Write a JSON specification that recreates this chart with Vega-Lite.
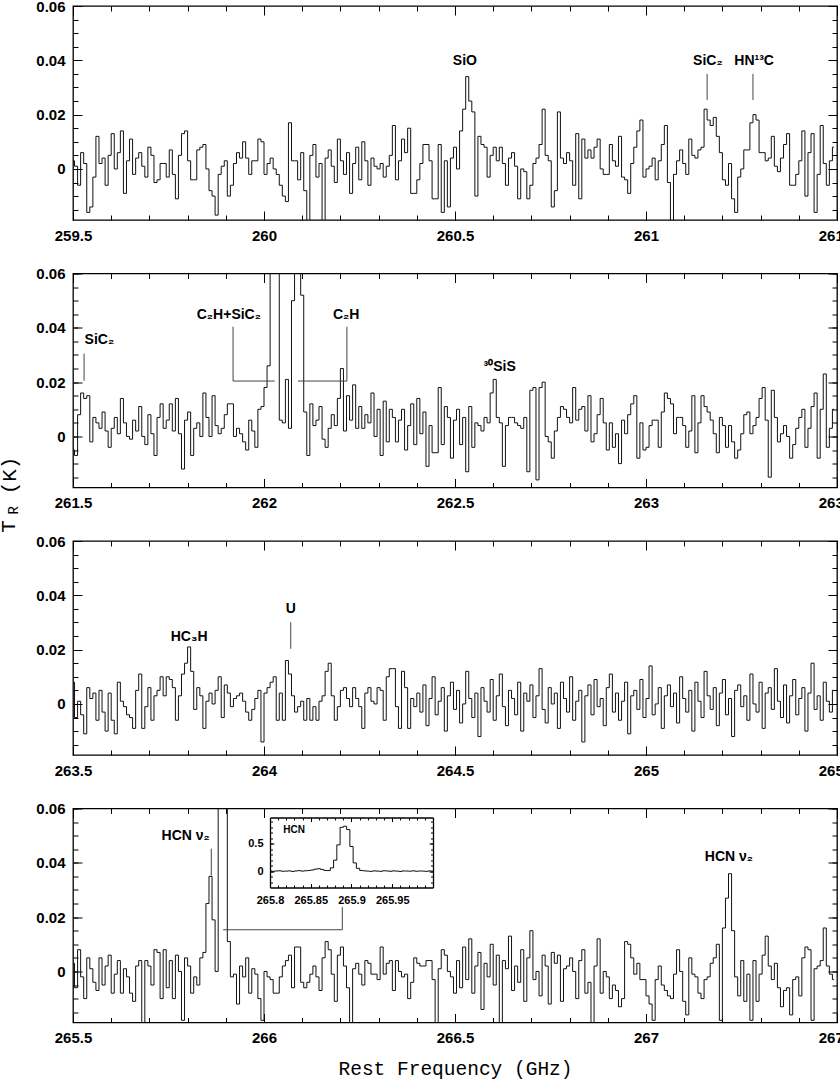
{
"$schema":"https://vega.github.io/schema/vega-lite/v6.json",
"background":"white",
"padding":{"left":-3,"top":-2,"right":0,"bottom":0},
"bounds":"flush",
"spacing":53.5,
"config":{
 "view":{"stroke":"black","strokeWidth":1.3},
 "axis":{"grid":false,"domain":false,"tickColor":"black","tickWidth":1,"labelFont":"Liberation Sans","labelFontWeight":"bold","labelFontSize":15,"labelColor":"black","titleFont":"Liberation Mono","titleFontWeight":"normal","titleFontSize":19.5,"titleColor":"black","labelOverlap":false,"labelFlush":false,"zindex":1}
},
"datasets":{
"p1":[
{"f":259.5,"t":0.003},{"f":259.508,"t":0.001},{"f":259.516,"t":-0.006},{"f":259.524,"t":0.006},{"f":259.532,"t":0.002},{"f":259.54,"t":-0.016},{"f":259.548,"t":-0.014},{"f":259.556,"t":-0.003},{"f":259.564,"t":0.012},{"f":259.572,"t":0.002},
{"f":259.58,"t":0.004},{"f":259.588,"t":-0.006},{"f":259.596,"t":0.005},{"f":259.604,"t":0.013},{"f":259.612,"t":0},{"f":259.62,"t":0.006},{"f":259.628,"t":0.014},{"f":259.636,"t":-0.009},{"f":259.644,"t":0.003},{"f":259.652,"t":0.011},
{"f":259.66,"t":-0.002},{"f":259.668,"t":0.004},{"f":259.676,"t":0.006},{"f":259.684,"t":0.001},{"f":259.692,"t":-0.003},{"f":259.7,"t":0.008},{"f":259.708,"t":0.005},{"f":259.716,"t":-0.005},{"f":259.724,"t":-0.004},{"f":259.732,"t":0.002},
{"f":259.74,"t":0.002},{"f":259.748,"t":-0.003},{"f":259.756,"t":0.007},{"f":259.764,"t":-0.002},{"f":259.772,"t":-0.011},{"f":259.78,"t":0.005},{"f":259.788,"t":0.013},{"f":259.796,"t":0.014},{"f":259.804,"t":0.003},{"f":259.812,"t":-0.004},
{"f":259.82,"t":-0.004},{"f":259.828,"t":0.007},{"f":259.836,"t":0.008},{"f":259.844,"t":0.009},{"f":259.852,"t":0},{"f":259.86,"t":-0.008},{"f":259.868,"t":-0.01},{"f":259.876,"t":-0.017},{"f":259.884,"t":-0.002},{"f":259.892,"t":0.001},
{"f":259.9,"t":0.003},{"f":259.908,"t":-0.01},{"f":259.916,"t":-0.006},{"f":259.924,"t":0.002},{"f":259.932,"t":0.006},{"f":259.94,"t":0.004},{"f":259.948,"t":0.01},{"f":259.956,"t":0.004},{"f":259.964,"t":-0.002},{"f":259.972,"t":0.003},
{"f":259.98,"t":0.003},{"f":259.988,"t":0.011},{"f":259.996,"t":0.01},{"f":260.004,"t":-0.002},{"f":260.012,"t":0.002},{"f":260.02,"t":0.004},{"f":260.028,"t":0},{"f":260.036,"t":-0.002},{"f":260.044,"t":-0.006},{"f":260.052,"t":-0.01},
{"f":260.06,"t":-0.012},{"f":260.068,"t":0.017},{"f":260.076,"t":0.003},{"f":260.084,"t":0.003},{"f":260.092,"t":-0.004},{"f":260.1,"t":0.006},{"f":260.108,"t":-0.008},{"f":260.116,"t":-0.019},{"f":260.124,"t":0.005},{"f":260.132,"t":0.009},
{"f":260.14,"t":-0.003},{"f":260.148,"t":0.002},{"f":260.156,"t":-0.02},{"f":260.164,"t":0.004},{"f":260.172,"t":0.007},{"f":260.18,"t":0.001},{"f":260.188,"t":-0.005},{"f":260.196,"t":0.011},{"f":260.204,"t":0.003},{"f":260.212,"t":-0.002},
{"f":260.22,"t":0.006},{"f":260.228,"t":-0.009},{"f":260.236,"t":0.002},{"f":260.244,"t":0.008},{"f":260.252,"t":-0.004},{"f":260.26,"t":0.01},{"f":260.268,"t":0.003},{"f":260.276,"t":-0.006},{"f":260.284,"t":0.004},{"f":260.292,"t":0.001},
{"f":260.3,"t":0},{"f":260.308,"t":0.002},{"f":260.316,"t":-0.003},{"f":260.324,"t":0.001},{"f":260.332,"t":0.005},{"f":260.34,"t":0.016},{"f":260.348,"t":-0.004},{"f":260.356,"t":0.003},{"f":260.364,"t":0.011},{"f":260.372,"t":0.006},
{"f":260.38,"t":0.015},{"f":260.388,"t":-0.009},{"f":260.396,"t":-0.009},{"f":260.404,"t":-0.004},{"f":260.412,"t":0.002},{"f":260.42,"t":0.009},{"f":260.428,"t":0.009},{"f":260.436,"t":0.003},{"f":260.444,"t":-0.011},{"f":260.452,"t":-0.011},
{"f":260.46,"t":0.009},{"f":260.468,"t":-0.016},{"f":260.476,"t":0.003},{"f":260.484,"t":-0.014},{"f":260.492,"t":0.004},{"f":260.5,"t":0.008},{"f":260.508,"t":0},{"f":260.516,"t":0.014},{"f":260.524,"t":0.022},{"f":260.532,"t":0.034},
{"f":260.54,"t":0.025},{"f":260.548,"t":0.021},{"f":260.556,"t":-0.01},{"f":260.564,"t":0.012},{"f":260.572,"t":0.009},{"f":260.58,"t":0.008},{"f":260.588,"t":-0.003},{"f":260.596,"t":0.005},{"f":260.604,"t":0.008},{"f":260.612,"t":0.003},
{"f":260.62,"t":0.008},{"f":260.628,"t":0.002},{"f":260.636,"t":-0.006},{"f":260.644,"t":0.004},{"f":260.652,"t":0.006},{"f":260.66,"t":0.001},{"f":260.668,"t":-0.011},{"f":260.676,"t":0},{"f":260.684,"t":-0.001},{"f":260.692,"t":-0.011},
{"f":260.7,"t":-0.006},{"f":260.708,"t":0.002},{"f":260.716,"t":0.004},{"f":260.724,"t":0.009},{"f":260.732,"t":0.022},{"f":260.74,"t":0.005},{"f":260.748,"t":0.003},{"f":260.756,"t":-0.014},{"f":260.764,"t":-0.008},{"f":260.772,"t":0.021},
{"f":260.78,"t":0.004},{"f":260.788,"t":0.002},{"f":260.796,"t":0.006},{"f":260.804,"t":0.003},{"f":260.812,"t":-0.006},{"f":260.82,"t":0.013},{"f":260.828,"t":-0.011},{"f":260.836,"t":0.011},{"f":260.844,"t":0.004},{"f":260.852,"t":0.007},
{"f":260.86,"t":0.004},{"f":260.868,"t":0.008},{"f":260.876,"t":0.011},{"f":260.884,"t":0},{"f":260.892,"t":-0.002},{"f":260.9,"t":-0.002},{"f":260.908,"t":0.009},{"f":260.916,"t":0.003},{"f":260.924,"t":0.001},{"f":260.932,"t":0.012},
{"f":260.94,"t":-0.003},{"f":260.948,"t":-0.004},{"f":260.956,"t":-0.009},{"f":260.964,"t":0.002},{"f":260.972,"t":0.008},{"f":260.98,"t":0.014},{"f":260.988,"t":0.018},{"f":260.996,"t":-0.003},{"f":261.004,"t":0},{"f":261.012,"t":0.001},
{"f":261.02,"t":0.004},{"f":261.028,"t":-0.004},{"f":261.036,"t":0.003},{"f":261.044,"t":0.009},{"f":261.052,"t":0.016},{"f":261.06,"t":-0.005},{"f":261.068,"t":-0.022},{"f":261.076,"t":-0.002},{"f":261.084,"t":0.003},{"f":261.092,"t":0.007},
{"f":261.1,"t":0.002},{"f":261.108,"t":-0.002},{"f":261.116,"t":0.011},{"f":261.124,"t":0.005},{"f":261.132,"t":0.004},{"f":261.14,"t":0.007},{"f":261.148,"t":0.008},{"f":261.156,"t":0.022},{"f":261.164,"t":0.018},{"f":261.172,"t":0.016},
{"f":261.18,"t":0.019},{"f":261.188,"t":0.012},{"f":261.196,"t":0.006},{"f":261.204,"t":-0.004},{"f":261.212,"t":-0.006},{"f":261.22,"t":0.002},{"f":261.228,"t":-0.011},{"f":261.236,"t":-0.016},{"f":261.244,"t":-0.003},{"f":261.252,"t":0},
{"f":261.26,"t":0.007},{"f":261.268,"t":0.007},{"f":261.276,"t":0.017},{"f":261.284,"t":0.02},{"f":261.292,"t":0.018},{"f":261.3,"t":0.006},{"f":261.308,"t":0.006},{"f":261.316,"t":0.003},{"f":261.324,"t":0.004},{"f":261.332,"t":0.012},
{"f":261.34,"t":0.001},{"f":261.348,"t":-0.001},{"f":261.356,"t":0.004},{"f":261.364,"t":0.009},{"f":261.372,"t":0.013},{"f":261.38,"t":-0.006},{"f":261.388,"t":-0.006},{"f":261.396,"t":-0.002},{"f":261.404,"t":0.003},{"f":261.412,"t":0.014},
{"f":261.42,"t":-0.01},{"f":261.428,"t":0.006},{"f":261.436,"t":0.013},{"f":261.444,"t":-0.016},{"f":261.452,"t":-0.002},{"f":261.46,"t":0.016},{"f":261.468,"t":0.002},{"f":261.476,"t":-0.006},{"f":261.484,"t":0.003},{"f":261.492,"t":0.008}
],
"p2":[
{"f":261.5,"t":-0.005},{"f":261.508,"t":-0.007},{"f":261.516,"t":0.008},{"f":261.524,"t":0.016},{"f":261.532,"t":0.014},{"f":261.54,"t":0.015},{"f":261.548,"t":-0.002},{"f":261.556,"t":0.007},{"f":261.564,"t":0.005},{"f":261.572,"t":0.003},
{"f":261.58,"t":0.009},{"f":261.588,"t":0.002},{"f":261.596,"t":-0.004},{"f":261.604,"t":0.003},{"f":261.612,"t":0.007},{"f":261.62,"t":0.001},{"f":261.628,"t":0.014},{"f":261.636,"t":0.005},{"f":261.644,"t":0},{"f":261.652,"t":-0.001},
{"f":261.66,"t":0.006},{"f":261.668,"t":0.002},{"f":261.676,"t":0.011},{"f":261.684,"t":0},{"f":261.692,"t":-0.003},{"f":261.7,"t":0.008},{"f":261.708,"t":0.001},{"f":261.716,"t":-0.007},{"f":261.724,"t":0.007},{"f":261.732,"t":0.012},
{"f":261.74,"t":0.003},{"f":261.748,"t":0.006},{"f":261.756,"t":0.012},{"f":261.764,"t":0.002},{"f":261.772,"t":0.014},{"f":261.78,"t":0.001},{"f":261.788,"t":-0.012},{"f":261.796,"t":0.006},{"f":261.804,"t":0.009},{"f":261.812,"t":-0.007},
{"f":261.82,"t":0.003},{"f":261.828,"t":0.005},{"f":261.836,"t":0},{"f":261.844,"t":0.016},{"f":261.852,"t":0.007},{"f":261.86,"t":0},{"f":261.868,"t":0.015},{"f":261.876,"t":0.004},{"f":261.884,"t":0.001},{"f":261.892,"t":0.003},
{"f":261.9,"t":0.008},{"f":261.908,"t":0.012},{"f":261.916,"t":0.012},{"f":261.924,"t":0},{"f":261.932,"t":0.003},{"f":261.94,"t":0.001},{"f":261.948,"t":-0.002},{"f":261.956,"t":-0.005},{"f":261.964,"t":0.006},{"f":261.972,"t":0.002},
{"f":261.98,"t":-0.004},{"f":261.988,"t":0.01},{"f":261.996,"t":0.011},{"f":262.004,"t":0.018},{"f":262.012,"t":0.026},{"f":262.02,"t":0.35},{"f":262.028,"t":0.35},{"f":262.036,"t":0.35},{"f":262.044,"t":0.006},{"f":262.052,"t":0.005},
{"f":262.06,"t":0.021},{"f":262.068,"t":0.003},{"f":262.076,"t":0.05},{"f":262.084,"t":0.35},{"f":262.092,"t":0.35},{"f":262.1,"t":0.052},{"f":262.108,"t":0.009},{"f":262.116,"t":-0.007},{"f":262.124,"t":0.012},{"f":262.132,"t":0.004},
{"f":262.14,"t":0.006},{"f":262.148,"t":0.011},{"f":262.156,"t":-0.001},{"f":262.164,"t":-0.004},{"f":262.172,"t":0.003},{"f":262.18,"t":0.008},{"f":262.188,"t":0.004},{"f":262.196,"t":0.014},{"f":262.204,"t":0.025},{"f":262.212,"t":0.002},
{"f":262.22,"t":0.015},{"f":262.228,"t":0.006},{"f":262.236,"t":0.019},{"f":262.244,"t":0.003},{"f":262.252,"t":0.011},{"f":262.26,"t":0.003},{"f":262.268,"t":0.008},{"f":262.276,"t":0.005},{"f":262.284,"t":0.016},{"f":262.292,"t":0},
{"f":262.3,"t":0.01},{"f":262.308,"t":-0.007},{"f":262.316,"t":0.013},{"f":262.324,"t":-0.002},{"f":262.332,"t":0.01},{"f":262.34,"t":0.007},{"f":262.348,"t":-0.002},{"f":262.356,"t":0.006},{"f":262.364,"t":0.01},{"f":262.372,"t":-0.005},
{"f":262.38,"t":0.004},{"f":262.388,"t":0.012},{"f":262.396,"t":-0.003},{"f":262.404,"t":0.014},{"f":262.412,"t":0.001},{"f":262.42,"t":0.009},{"f":262.428,"t":-0.011},{"f":262.436,"t":0.004},{"f":262.444,"t":-0.006},{"f":262.452,"t":-0.006},
{"f":262.46,"t":0.018},{"f":262.468,"t":-0.003},{"f":262.476,"t":0.011},{"f":262.484,"t":0.007},{"f":262.492,"t":-0.008},{"f":262.5,"t":0.006},{"f":262.508,"t":0.01},{"f":262.516,"t":-0.003},{"f":262.524,"t":0.007},{"f":262.532,"t":-0.013},
{"f":262.54,"t":0.011},{"f":262.548,"t":-0.004},{"f":262.556,"t":0.005},{"f":262.564,"t":0.004},{"f":262.572,"t":0.002},{"f":262.58,"t":0.007},{"f":262.588,"t":0.005},{"f":262.596,"t":0.016},{"f":262.604,"t":0.021},{"f":262.612,"t":0.007},
{"f":262.62,"t":0.005},{"f":262.628,"t":-0.011},{"f":262.636,"t":0.004},{"f":262.644,"t":0.007},{"f":262.652,"t":0.007},{"f":262.66,"t":0.005},{"f":262.668,"t":0.004},{"f":262.676,"t":0.003},{"f":262.684,"t":0.007},{"f":262.692,"t":-0.013},
{"f":262.7,"t":0.017},{"f":262.708,"t":0.018},{"f":262.716,"t":-0.016},{"f":262.724,"t":0.018},{"f":262.732,"t":0.02},{"f":262.74,"t":0},{"f":262.748,"t":-0.002},{"f":262.756,"t":-0.008},{"f":262.764,"t":0.002},{"f":262.772,"t":0.007},
{"f":262.78,"t":0.011},{"f":262.788,"t":0.01},{"f":262.796,"t":0.007},{"f":262.804,"t":0.005},{"f":262.812,"t":0.018},{"f":262.82,"t":0.006},{"f":262.828,"t":0.01},{"f":262.836,"t":0.011},{"f":262.844,"t":0.002},{"f":262.852,"t":0.015},
{"f":262.86,"t":-0.002},{"f":262.868,"t":0.001},{"f":262.876,"t":0.008},{"f":262.884,"t":0.014},{"f":262.892,"t":0.005},{"f":262.9,"t":-0.005},{"f":262.908,"t":0.005},{"f":262.916,"t":-0.004},{"f":262.924,"t":0.001},{"f":262.932,"t":-0.01},
{"f":262.94,"t":0.006},{"f":262.948,"t":0.001},{"f":262.956,"t":0.008},{"f":262.964,"t":0.012},{"f":262.972,"t":0.015},{"f":262.98,"t":-0.008},{"f":262.988,"t":0.005},{"f":262.996,"t":-0.005},{"f":263.004,"t":-0.004},{"f":263.012,"t":0.004},
{"f":263.02,"t":0.006},{"f":263.028,"t":0.006},{"f":263.036,"t":-0.004},{"f":263.044,"t":0.009},{"f":263.052,"t":0.016},{"f":263.06,"t":0.014},{"f":263.068,"t":0.012},{"f":263.076,"t":0.001},{"f":263.084,"t":0.007},{"f":263.092,"t":0.007},
{"f":263.1,"t":0.004},{"f":263.108,"t":-0.004},{"f":263.116,"t":0.002},{"f":263.124,"t":0.015},{"f":263.132,"t":-0.006},{"f":263.14,"t":0.005},{"f":263.148,"t":0.015},{"f":263.156,"t":0.011},{"f":263.164,"t":0.009},{"f":263.172,"t":0.006},
{"f":263.18,"t":0.001},{"f":263.188,"t":-0.006},{"f":263.196,"t":0.007},{"f":263.204,"t":0.004},{"f":263.212,"t":-0.004},{"f":263.22,"t":0.004},{"f":263.228,"t":-0.002},{"f":263.236,"t":-0.008},{"f":263.244,"t":-0.005},{"f":263.252,"t":0.001},
{"f":263.26,"t":0.008},{"f":263.268,"t":0.009},{"f":263.276,"t":0.001},{"f":263.284,"t":0.004},{"f":263.292,"t":0.007},{"f":263.3,"t":0.014},{"f":263.308,"t":0.018},{"f":263.316,"t":0.006},{"f":263.324,"t":-0.015},{"f":263.332,"t":0.017},
{"f":263.34,"t":0.007},{"f":263.348,"t":-0.002},{"f":263.356,"t":0.001},{"f":263.364,"t":0.004},{"f":263.372,"t":0},{"f":263.38,"t":-0.008},{"f":263.388,"t":-0.003},{"f":263.396,"t":0.003},{"f":263.404,"t":0.007},{"f":263.412,"t":0.01},
{"f":263.42,"t":-0.004},{"f":263.428,"t":0.003},{"f":263.436,"t":0.011},{"f":263.444,"t":0.016},{"f":263.452,"t":-0.008},{"f":263.46,"t":0.01},{"f":263.468,"t":0.023},{"f":263.476,"t":-0.004},{"f":263.484,"t":0.003},{"f":263.492,"t":0.01}
],
"p3":[
{"f":263.5,"t":0.008},{"f":263.508,"t":-0.005},{"f":263.516,"t":0.001},{"f":263.524,"t":-0.004},{"f":263.532,"t":-0.011},{"f":263.54,"t":0.006},{"f":263.548,"t":0.002},{"f":263.556,"t":0.004},{"f":263.564,"t":-0.006},{"f":263.572,"t":0.005},
{"f":263.58,"t":-0.003},{"f":263.588,"t":-0.01},{"f":263.596,"t":0.004},{"f":263.604,"t":-0.006},{"f":263.612,"t":-0.011},{"f":263.62,"t":0.008},{"f":263.628,"t":0.001},{"f":263.636,"t":-0.001},{"f":263.644,"t":-0.004},{"f":263.652,"t":-0.005},
{"f":263.66,"t":-0.009},{"f":263.668,"t":0.005},{"f":263.676,"t":0.011},{"f":263.684,"t":-0.009},{"f":263.692,"t":-0.001},{"f":263.7,"t":0.006},{"f":263.708,"t":-0.006},{"f":263.716,"t":0.003},{"f":263.724,"t":0.005},{"f":263.732,"t":0.01},
{"f":263.74,"t":0.003},{"f":263.748,"t":0.01},{"f":263.756,"t":0.009},{"f":263.764,"t":0.006},{"f":263.772,"t":-0.006},{"f":263.78,"t":0.003},{"f":263.788,"t":0.011},{"f":263.796,"t":0.015},{"f":263.804,"t":0.021},{"f":263.812,"t":0.012},
{"f":263.82,"t":-0.002},{"f":263.828,"t":0.006},{"f":263.836,"t":0.003},{"f":263.844,"t":-0.009},{"f":263.852,"t":0.001},{"f":263.86,"t":0.004},{"f":263.868,"t":0},{"f":263.876,"t":0.005},{"f":263.884,"t":0.01},{"f":263.892,"t":-0.005},
{"f":263.9,"t":0.007},{"f":263.908,"t":0.004},{"f":263.916,"t":-0.001},{"f":263.924,"t":0.002},{"f":263.932,"t":0.003},{"f":263.94,"t":0.004},{"f":263.948,"t":0.001},{"f":263.956,"t":-0.003},{"f":263.964,"t":-0.006},{"f":263.972,"t":-0.002},
{"f":263.98,"t":0.002},{"f":263.988,"t":0.005},{"f":263.996,"t":-0.014},{"f":264.004,"t":0.004},{"f":264.012,"t":0.006},{"f":264.02,"t":0.008},{"f":264.028,"t":0.01},{"f":264.036,"t":-0.006},{"f":264.044,"t":0.004},{"f":264.052,"t":-0.006},
{"f":264.06,"t":0.016},{"f":264.068,"t":0.011},{"f":264.076,"t":0.003},{"f":264.084,"t":-0.003},{"f":264.092,"t":-0.001},{"f":264.1,"t":0.001},{"f":264.108,"t":-0.006},{"f":264.116,"t":0.002},{"f":264.124,"t":-0.006},{"f":264.132,"t":-0.001},
{"f":264.14,"t":-0.006},{"f":264.148,"t":0.001},{"f":264.156,"t":0.003},{"f":264.164,"t":0.012},{"f":264.172,"t":0.015},{"f":264.18,"t":0.003},{"f":264.188,"t":-0.006},{"f":264.196,"t":-0.001},{"f":264.204,"t":0.005},{"f":264.212,"t":0.006},
{"f":264.22,"t":0.002},{"f":264.228,"t":-0.001},{"f":264.236,"t":0.006},{"f":264.244,"t":0.002},{"f":264.252,"t":-0.001},{"f":264.26,"t":-0.009},{"f":264.268,"t":0.004},{"f":264.276,"t":0.006},{"f":264.284,"t":0.001},{"f":264.292,"t":0},
{"f":264.3,"t":0.006},{"f":264.308,"t":0.005},{"f":264.316,"t":-0.006},{"f":264.324,"t":0.01},{"f":264.332,"t":0.013},{"f":264.34,"t":0.013},{"f":264.348,"t":-0.001},{"f":264.356,"t":-0.009},{"f":264.364,"t":0.012},{"f":264.372,"t":0.006},
{"f":264.38,"t":-0.009},{"f":264.388,"t":0.002},{"f":264.396,"t":-0.001},{"f":264.404,"t":0.004},{"f":264.412,"t":-0.003},{"f":264.42,"t":0.007},{"f":264.428,"t":-0.008},{"f":264.436,"t":0.002},{"f":264.444,"t":0.01},{"f":264.452,"t":-0.004},
{"f":264.46,"t":0.001},{"f":264.468,"t":0.006},{"f":264.476,"t":-0.01},{"f":264.484,"t":0.003},{"f":264.492,"t":0.008},{"f":264.5,"t":-0.002},{"f":264.508,"t":0.005},{"f":264.516,"t":-0.007},{"f":264.524,"t":0},{"f":264.532,"t":0.012},
{"f":264.54,"t":0.002},{"f":264.548,"t":-0.005},{"f":264.556,"t":0.004},{"f":264.564,"t":-0.012},{"f":264.572,"t":0.006},{"f":264.58,"t":0.001},{"f":264.588,"t":-0.003},{"f":264.596,"t":0.009},{"f":264.604,"t":-0.006},{"f":264.612,"t":0.003},
{"f":264.62,"t":0.011},{"f":264.628,"t":-0.001},{"f":264.636,"t":-0.008},{"f":264.644,"t":0.005},{"f":264.652,"t":0.002},{"f":264.66,"t":-0.004},{"f":264.668,"t":0.008},{"f":264.676,"t":-0.01},{"f":264.684,"t":0.004},{"f":264.692,"t":0.001},
{"f":264.7,"t":0.007},{"f":264.708,"t":-0.005},{"f":264.716,"t":0.003},{"f":264.724,"t":0.013},{"f":264.732,"t":-0.002},{"f":264.74,"t":-0.007},{"f":264.748,"t":0.006},{"f":264.756,"t":0},{"f":264.764,"t":0.004},{"f":264.772,"t":-0.009},
{"f":264.78,"t":0.008},{"f":264.788,"t":0.002},{"f":264.796,"t":-0.003},{"f":264.804,"t":0.01},{"f":264.812,"t":-0.006},{"f":264.82,"t":0.001},{"f":264.828,"t":0.005},{"f":264.836,"t":-0.014},{"f":264.844,"t":0.003},{"f":264.852,"t":0.007},
{"f":264.86,"t":-0.004},{"f":264.868,"t":0.009},{"f":264.876,"t":-0.001},{"f":264.884,"t":0.002},{"f":264.892,"t":-0.008},{"f":264.9,"t":0.006},{"f":264.908,"t":0.011},{"f":264.916,"t":-0.003},{"f":264.924,"t":0.004},{"f":264.932,"t":-0.006},
{"f":264.94,"t":0.001},{"f":264.948,"t":0.008},{"f":264.956,"t":-0.011},{"f":264.964,"t":0.003},{"f":264.972,"t":0.005},{"f":264.98,"t":-0.002},{"f":264.988,"t":0.009},{"f":264.996,"t":-0.005},{"f":265.004,"t":0.002},{"f":265.012,"t":0.014},
{"f":265.02,"t":-0.004},{"f":265.028,"t":0},{"f":265.036,"t":0.006},{"f":265.044,"t":-0.009},{"f":265.052,"t":0.003},{"f":265.06,"t":0.007},{"f":265.068,"t":-0.001},{"f":265.076,"t":0.004},{"f":265.084,"t":-0.007},{"f":265.092,"t":0.01},
{"f":265.1,"t":0.002},{"f":265.108,"t":-0.003},{"f":265.116,"t":0.005},{"f":265.124,"t":-0.01},{"f":265.132,"t":0.008},{"f":265.14,"t":0.001},{"f":265.148,"t":-0.005},{"f":265.156,"t":0.012},{"f":265.164,"t":0.003},{"f":265.172,"t":-0.002},
{"f":265.18,"t":0.006},{"f":265.188,"t":-0.008},{"f":265.196,"t":0.004},{"f":265.204,"t":0.009},{"f":265.212,"t":-0.004},{"f":265.22,"t":0.002},{"f":265.228,"t":-0.012},{"f":265.236,"t":0.005},{"f":265.244,"t":0.007},{"f":265.252,"t":-0.001},
{"f":265.26,"t":0.003},{"f":265.268,"t":-0.006},{"f":265.276,"t":0.011},{"f":265.284,"t":0},{"f":265.292,"t":-0.003},{"f":265.3,"t":0.008},{"f":265.308,"t":-0.009},{"f":265.316,"t":0.004},{"f":265.324,"t":0.006},{"f":265.332,"t":-0.002},
{"f":265.34,"t":0.013},{"f":265.348,"t":0.001},{"f":265.356,"t":-0.005},{"f":265.364,"t":0.007},{"f":265.372,"t":-0.007},{"f":265.38,"t":0.003},{"f":265.388,"t":0.009},{"f":265.396,"t":-0.004},{"f":265.404,"t":0.002},{"f":265.412,"t":0.006},
{"f":265.42,"t":-0.01},{"f":265.428,"t":0.004},{"f":265.436,"t":0.015},{"f":265.444,"t":-0.002},{"f":265.452,"t":0.003},{"f":265.46,"t":-0.006},{"f":265.468,"t":0.008},{"f":265.476,"t":0.001},{"f":265.484,"t":-0.003},{"f":265.492,"t":0.005}
],
"p4":[
{"f":265.5,"t":0.003},{"f":265.508,"t":-0.006},{"f":265.516,"t":0.008},{"f":265.524,"t":-0.002},{"f":265.532,"t":-0.01},{"f":265.54,"t":0.005},{"f":265.548,"t":0.001},{"f":265.556,"t":-0.004},{"f":265.564,"t":-0.007},{"f":265.572,"t":0.005},
{"f":265.58,"t":-0.005},{"f":265.588,"t":0.002},{"f":265.596,"t":0.006},{"f":265.604,"t":-0.008},{"f":265.612,"t":-0.001},{"f":265.62,"t":0.004},{"f":265.628,"t":-0.008},{"f":265.636,"t":0.001},{"f":265.644,"t":-0.002},{"f":265.652,"t":-0.008},
{"f":265.66,"t":-0.011},{"f":265.668,"t":0.002},{"f":265.676,"t":0.004},{"f":265.684,"t":-0.019},{"f":265.692,"t":0.004},{"f":265.7,"t":0.002},{"f":265.708,"t":-0.005},{"f":265.716,"t":0.008},{"f":265.724,"t":0.007},{"f":265.732,"t":-0.01},
{"f":265.74,"t":0.008},{"f":265.748,"t":-0.006},{"f":265.756,"t":0.004},{"f":265.764,"t":-0.01},{"f":265.772,"t":0.006},{"f":265.78,"t":0},{"f":265.788,"t":-0.018},{"f":265.796,"t":0.005},{"f":265.804,"t":0.002},{"f":265.812,"t":-0.008},
{"f":265.82,"t":-0.002},{"f":265.828,"t":-0.005},{"f":265.836,"t":0.005},{"f":265.844,"t":0.007},{"f":265.852,"t":0.025},{"f":265.86,"t":0.035},{"f":265.868,"t":0.019},{"f":265.876,"t":0},{"f":265.884,"t":0.5},{"f":265.892,"t":0.5},
{"f":265.9,"t":0.5},{"f":265.908,"t":0.011},{"f":265.916,"t":-0.002},{"f":265.924,"t":-0.001},{"f":265.932,"t":-0.012},{"f":265.94,"t":0.002},{"f":265.948,"t":-0.002},{"f":265.956,"t":0.005},{"f":265.964,"t":-0.008},{"f":265.972,"t":0.001},
{"f":265.98,"t":-0.001},{"f":265.988,"t":-0.01},{"f":265.996,"t":-0.018},{"f":266.004,"t":0},{"f":266.012,"t":-0.002},{"f":266.02,"t":-0.003},{"f":266.028,"t":-0.008},{"f":266.036,"t":-0.008},{"f":266.044,"t":-0.002},{"f":266.052,"t":0.002},
{"f":266.06,"t":0.004},{"f":266.068,"t":0.006},{"f":266.076,"t":-0.006},{"f":266.084,"t":0.009},{"f":266.092,"t":0.009},{"f":266.1,"t":-0.004},{"f":266.108,"t":-0.006},{"f":266.116,"t":-0.004},{"f":266.124,"t":-0.001},{"f":266.132,"t":0.002},
{"f":266.14,"t":-0.002},{"f":266.148,"t":-0.007},{"f":266.156,"t":0.005},{"f":266.164,"t":0.011},{"f":266.172,"t":0.008},{"f":266.18,"t":-0.001},{"f":266.188,"t":-0.011},{"f":266.196,"t":0.006},{"f":266.204,"t":0.009},{"f":266.212,"t":0.002},
{"f":266.22,"t":-0.006},{"f":266.228,"t":-0.019},{"f":266.236,"t":0.001},{"f":266.244,"t":0.003},{"f":266.252,"t":-0.001},{"f":266.26,"t":-0.005},{"f":266.268,"t":0.004},{"f":266.276,"t":0.003},{"f":266.284,"t":-0.001},{"f":266.292,"t":-0.001},
{"f":266.3,"t":-0.003},{"f":266.308,"t":0.009},{"f":266.316,"t":-0.001},{"f":266.324,"t":0.003},{"f":266.332,"t":0.004},{"f":266.34,"t":-0.007},{"f":266.348,"t":0.004},{"f":266.356,"t":0},{"f":266.364,"t":-0.002},{"f":266.372,"t":-0.001},
{"f":266.38,"t":-0.01},{"f":266.388,"t":-0.004},{"f":266.396,"t":0.005},{"f":266.404,"t":0.003},{"f":266.412,"t":0.002},{"f":266.42,"t":0.002},{"f":266.428,"t":0.004},{"f":266.436,"t":0.004},{"f":266.444,"t":-0.003},{"f":266.452,"t":-0.019},
{"f":266.46,"t":0.001},{"f":266.468,"t":0.008},{"f":266.476,"t":0.006},{"f":266.484,"t":0},{"f":266.492,"t":-0.002},{"f":266.5,"t":-0.008},{"f":266.508,"t":0.004},{"f":266.516,"t":-0.006},{"f":266.524,"t":0.009},{"f":266.532,"t":-0.003},
{"f":266.54,"t":0.012},{"f":266.548,"t":-0.008},{"f":266.556,"t":0.002},{"f":266.564,"t":0.007},{"f":266.572,"t":-0.014},{"f":266.58,"t":0.003},{"f":266.588,"t":-0.002},{"f":266.596,"t":0.01},{"f":266.604,"t":-0.005},{"f":266.612,"t":0.006},
{"f":266.62,"t":-0.019},{"f":266.628,"t":0.004},{"f":266.636,"t":0.001},{"f":266.644,"t":0.013},{"f":266.652,"t":-0.007},{"f":266.66,"t":0.002},{"f":266.668,"t":-0.004},{"f":266.676,"t":0.008},{"f":266.684,"t":-0.011},{"f":266.692,"t":0.005},
{"f":266.7,"t":0.015},{"f":266.708,"t":-0.003},{"f":266.716,"t":0},{"f":266.724,"t":-0.009},{"f":266.732,"t":0.006},{"f":266.74,"t":0.002},{"f":266.748,"t":-0.012},{"f":266.756,"t":0.007},{"f":266.764,"t":0.003},{"f":266.772,"t":0.006},
{"f":266.78,"t":-0.011},{"f":266.788,"t":0.001},{"f":266.796,"t":0.002},{"f":266.804,"t":0.005},{"f":266.812,"t":0},{"f":266.82,"t":-0.01},{"f":266.828,"t":0.004},{"f":266.836,"t":0.008},{"f":266.844,"t":-0.008},{"f":266.852,"t":-0.004},
{"f":266.86,"t":-0.019},{"f":266.868,"t":0.002},{"f":266.876,"t":0.012},{"f":266.884,"t":-0.008},{"f":266.892,"t":0},{"f":266.9,"t":-0.002},{"f":266.908,"t":-0.01},{"f":266.916,"t":-0.005},{"f":266.924,"t":-0.007},{"f":266.932,"t":-0.013},
{"f":266.94,"t":-0.01},{"f":266.948,"t":0.011},{"f":266.956,"t":0.01},{"f":266.964,"t":0.005},{"f":266.972,"t":-0.001},{"f":266.98,"t":0.003},{"f":266.988,"t":-0.003},{"f":266.996,"t":-0.003},{"f":267.004,"t":-0.009},{"f":267.012,"t":-0.012},
{"f":267.02,"t":-0.018},{"f":267.028,"t":-0.003},{"f":267.036,"t":0.002},{"f":267.044,"t":-0.005},{"f":267.052,"t":-0.007},{"f":267.06,"t":-0.009},{"f":267.068,"t":-0.01},{"f":267.076,"t":-0.001},{"f":267.084,"t":0.008},{"f":267.092,"t":0},
{"f":267.1,"t":-0.011},{"f":267.108,"t":-0.016},{"f":267.116,"t":0.005},{"f":267.124,"t":-0.001},{"f":267.132,"t":-0.002},{"f":267.14,"t":-0.008},{"f":267.148,"t":-0.01},{"f":267.156,"t":-0.003},{"f":267.164,"t":-0.002},{"f":267.172,"t":0.003},
{"f":267.18,"t":0.005},{"f":267.188,"t":0.01},{"f":267.196,"t":-0.018},{"f":267.204,"t":0.016},{"f":267.212,"t":0.027},{"f":267.22,"t":0.036},{"f":267.228,"t":0.015},{"f":267.236,"t":-0.002},{"f":267.244,"t":-0.009},{"f":267.252,"t":0.004},
{"f":267.26,"t":-0.011},{"f":267.268,"t":-0.001},{"f":267.276,"t":-0.018},{"f":267.284,"t":0.004},{"f":267.292,"t":-0.011},{"f":267.3,"t":-0.001},{"f":267.308,"t":0.006},{"f":267.316,"t":0.013},{"f":267.324,"t":0.002},{"f":267.332,"t":-0.003},
{"f":267.34,"t":0.003},{"f":267.348,"t":-0.006},{"f":267.356,"t":-0.013},{"f":267.364,"t":-0.007},{"f":267.372,"t":-0.006},{"f":267.38,"t":-0.016},{"f":267.388,"t":-0.003},{"f":267.396,"t":-0.002},{"f":267.404,"t":-0.009},{"f":267.412,"t":0.005},
{"f":267.42,"t":0.009},{"f":267.428,"t":0.008},{"f":267.436,"t":-0.018},{"f":267.444,"t":0.001},{"f":267.452,"t":0.002},{"f":267.46,"t":0.004},{"f":267.468,"t":0.016},{"f":267.476,"t":0.002},{"f":267.484,"t":-0.001},{"f":267.492,"t":-0.003}
],
"ins":[
{"f":265.8,"t":0.005},{"f":265.804,"t":-0.004},{"f":265.808,"t":0.002},{"f":265.812,"t":0.006},{"f":265.816,"t":-0.003},{"f":265.82,"t":0},{"f":265.824,"t":0.004},{"f":265.828,"t":-0.006},{"f":265.832,"t":0.003},{"f":265.836,"t":0.008},
{"f":265.84,"t":0},{"f":265.844,"t":0.006},{"f":265.848,"t":0.012},{"f":265.852,"t":0.02},{"f":265.856,"t":0.035},{"f":265.86,"t":0.044},{"f":265.864,"t":0.03},{"f":265.868,"t":0.012},{"f":265.872,"t":0.01},{"f":265.876,"t":0.06},
{"f":265.88,"t":0.2},{"f":265.884,"t":0.48},{"f":265.888,"t":0.8},{"f":265.892,"t":0.82},{"f":265.896,"t":0.76},{"f":265.9,"t":0.45},{"f":265.904,"t":0.15},{"f":265.908,"t":0.05},{"f":265.912,"t":0.012},{"f":265.916,"t":0.005},
{"f":265.92,"t":0},{"f":265.924,"t":-0.005},{"f":265.928,"t":0.004},{"f":265.932,"t":0},{"f":265.936,"t":-0.004},{"f":265.94,"t":0.006},{"f":265.944,"t":0.002},{"f":265.948,"t":-0.003},{"f":265.952,"t":0.004},{"f":265.956,"t":0},
{"f":265.96,"t":-0.006},{"f":265.964,"t":0.003},{"f":265.968,"t":0.001},{"f":265.972,"t":-0.002},{"f":265.976,"t":0.005},{"f":265.98,"t":-0.003},{"f":265.984,"t":0.002},{"f":265.988,"t":0},{"f":265.992,"t":-0.004},{"f":265.996,"t":0.003},{"f":266,"t":0}
],
"lab":[
{"p":1,"f":260.526,"t":0.0397,"s":"SiO"},
{"p":1,"f":261.162,"t":0.0397,"s":"SiC₂"},
{"p":1,"f":261.283,"t":0.0397,"s":"HN¹³C"},
{"p":2,"f":261.569,"t":0.0354,"s":"SiC₂"},
{"p":2,"f":261.908,"t":0.0449,"s":"C₂H+SiC₂"},
{"p":2,"f":262.215,"t":0.0449,"s":"C₂H"},
{"p":2,"f":262.617,"t":0.0257,"s":"³⁰SiS"},
{"p":3,"f":263.804,"t":0.0246,"s":"HC₃H"},
{"p":3,"f":264.07,"t":0.035,"s":"U"},
{"p":4,"f":265.795,"t":0.05,"s":"HCN  ν₂"},
{"p":4,"f":267.217,"t":0.042,"s":"HCN  ν₂"}
],
"ptr":[
{"p":1,"f":261.16,"t":0.035,"f2":261.16,"t2":0.0254},
{"p":1,"f":261.28,"t":0.035,"f2":261.28,"t2":0.0254},
{"p":2,"f":261.529,"t":0.0305,"f2":261.529,"t2":0.0205},
{"p":2,"f":261.919,"t":0.0404,"f2":261.919,"t2":0.0204},
{"p":2,"f":261.919,"t":0.0204,"f2":262.028,"t2":0.0204},
{"p":2,"f":262.217,"t":0.0404,"f2":262.217,"t2":0.0204},
{"p":2,"f":262.217,"t":0.0204,"f2":262.089,"t2":0.0204},
{"p":3,"f":264.07,"t":0.0301,"f2":264.07,"t2":0.0203},
{"p":4,"f":265.862,"t":0.0452,"f2":265.862,"t2":0.0353},
{"p":4,"f":265.893,"t":0.01535,"f2":266.205,"t2":0.01535},
{"p":4,"f":266.205,"t":0.01535,"f2":266.205,"t2":0.0237}
],
"ilab":[{"f":265.8295,"t":0.743,"s":"HCN"}],
"one":[{}]
},
"vconcat":[
{"width":764,"height":214,
 "layer":[
  {"data":{"name":"p1"},"mark":{"type":"line","interpolate":"step","clip":true,"stroke":"#111","strokeWidth":1},
   "encoding":{
    "x":{"field":"f","type":"quantitative","scale":{"domain":[259.5,261.5],"nice":false,"zero":false},"axis":{"title":null,"orient":"bottom","values":[259.5,260,260.5,261,261.5],"format":"~f","tickSize":-9,"labelPadding":17}},
    "y":{"field":"t","type":"quantitative","scale":{"domain":[-0.0188,0.06],"nice":false,"zero":false},"axis":{"title":null,"orient":"left","values":[0,0.02,0.04,0.06],"format":"~f","tickSize":-9,"labelPadding":17}}}},
  {"data":{"name":"one"},"mark":{"type":"point","opacity":0},
   "encoding":{
    "x":{"datum":260,"type":"quantitative","axis":{"title":null,"orient":"bottom","values":[259.5,259.6,259.7,259.8,259.9,260,260.1,260.2,260.3,260.4,260.5,260.6,260.7,260.8,260.9,261,261.1,261.2,261.3,261.4,261.5],"labels":false,"tickSize":-5}},
    "y":{"datum":0,"type":"quantitative","axis":{"title":null,"orient":"left","values":[-0.015,-0.01,-0.005,0,0.005,0.01,0.015,0.02,0.025,0.03,0.035,0.04,0.045,0.05,0.055,0.06],"labels":false,"tickSize":-5}}}},
  {"data":{"name":"one"},"mark":{"type":"point","opacity":0},
   "encoding":{
    "x":{"datum":260,"type":"quantitative","axis":{"title":null,"orient":"top","values":[259.5,260,260.5,261,261.5],"labels":false,"tickSize":-9}},
    "y":{"datum":0,"type":"quantitative","axis":{"title":null,"orient":"right","values":[0,0.02,0.04,0.06],"labels":false,"tickSize":-9}}}},
  {"data":{"name":"one"},"mark":{"type":"point","opacity":0},
   "encoding":{
    "x":{"datum":260,"type":"quantitative","axis":{"title":null,"orient":"top","values":[259.5,259.6,259.7,259.8,259.9,260,260.1,260.2,260.3,260.4,260.5,260.6,260.7,260.8,260.9,261,261.1,261.2,261.3,261.4,261.5],"labels":false,"tickSize":-5}},
    "y":{"datum":0,"type":"quantitative","axis":{"title":null,"orient":"right","values":[-0.015,-0.01,-0.005,0,0.005,0.01,0.015,0.02,0.025,0.03,0.035,0.04,0.045,0.05,0.055,0.06],"labels":false,"tickSize":-5}}}},
  {"data":{"name":"ptr"},"transform":[{"filter":"datum.p==1"}],"mark":{"type":"rule","color":"#444","strokeWidth":1},
   "encoding":{"x":{"field":"f","type":"quantitative","axis":null},"y":{"field":"t","type":"quantitative","axis":null},"x2":{"field":"f2"},"y2":{"field":"t2"}}},
  {"data":{"name":"lab"},"transform":[{"filter":"datum.p==1"}],"mark":{"type":"text","font":"Liberation Sans","fontWeight":"bold","fontSize":14,"color":"black","baseline":"middle","align":"center"},
   "encoding":{"x":{"field":"f","type":"quantitative","axis":null},"y":{"field":"t","type":"quantitative","axis":null},"text":{"field":"s"}}}
 ],
 "resolve":{"axis":{"x":"independent","y":"independent"}}
},
{"width":764,"height":214,
 "layer":[
  {"data":{"name":"p2"},"mark":{"type":"line","interpolate":"step","clip":true,"stroke":"#111","strokeWidth":1},
   "encoding":{
    "x":{"field":"f","type":"quantitative","scale":{"domain":[261.5,263.5],"nice":false,"zero":false},"axis":{"title":null,"orient":"bottom","values":[261.5,262,262.5,263,263.5],"format":"~f","tickSize":-9,"labelPadding":17}},
    "y":{"field":"t","type":"quantitative","scale":{"domain":[-0.0188,0.06],"nice":false,"zero":false},"axis":{"title":null,"orient":"left","values":[0,0.02,0.04,0.06],"format":"~f","tickSize":-9,"labelPadding":17}}}},
  {"data":{"name":"one"},"mark":{"type":"point","opacity":0},
   "encoding":{
    "x":{"datum":262,"type":"quantitative","axis":{"title":null,"orient":"bottom","values":[261.5,261.6,261.7,261.8,261.9,262,262.1,262.2,262.3,262.4,262.5,262.6,262.7,262.8,262.9,263,263.1,263.2,263.3,263.4,263.5],"labels":false,"tickSize":-5}},
    "y":{"datum":0,"type":"quantitative","axis":{"title":null,"orient":"left","values":[-0.015,-0.01,-0.005,0,0.005,0.01,0.015,0.02,0.025,0.03,0.035,0.04,0.045,0.05,0.055,0.06],"labels":false,"tickSize":-5}}}},
  {"data":{"name":"one"},"mark":{"type":"point","opacity":0},
   "encoding":{
    "x":{"datum":262,"type":"quantitative","axis":{"title":null,"orient":"top","values":[261.5,262,262.5,263,263.5],"labels":false,"tickSize":-9}},
    "y":{"datum":0,"type":"quantitative","axis":{"title":null,"orient":"right","values":[0,0.02,0.04,0.06],"labels":false,"tickSize":-9}}}},
  {"data":{"name":"one"},"mark":{"type":"point","opacity":0},
   "encoding":{
    "x":{"datum":262,"type":"quantitative","axis":{"title":null,"orient":"top","values":[261.5,261.6,261.7,261.8,261.9,262,262.1,262.2,262.3,262.4,262.5,262.6,262.7,262.8,262.9,263,263.1,263.2,263.3,263.4,263.5],"labels":false,"tickSize":-5}},
    "y":{"datum":0,"type":"quantitative","axis":{"title":null,"orient":"right","values":[-0.015,-0.01,-0.005,0,0.005,0.01,0.015,0.02,0.025,0.03,0.035,0.04,0.045,0.05,0.055,0.06],"labels":false,"tickSize":-5}}}},
  {"data":{"name":"ptr"},"transform":[{"filter":"datum.p==2"}],"mark":{"type":"rule","color":"#444","strokeWidth":1},
   "encoding":{"x":{"field":"f","type":"quantitative","axis":null},"y":{"field":"t","type":"quantitative","axis":null},"x2":{"field":"f2"},"y2":{"field":"t2"}}},
  {"data":{"name":"lab"},"transform":[{"filter":"datum.p==2"}],"mark":{"type":"text","font":"Liberation Sans","fontWeight":"bold","fontSize":14,"color":"black","baseline":"middle","align":"center"},
   "encoding":{"x":{"field":"f","type":"quantitative","axis":null},"y":{"field":"t","type":"quantitative","axis":null},"text":{"field":"s"}}},
  {"data":{"name":"one"},"mark":{"type":"text","text":"T","angle":270,"font":"Liberation Mono","fontSize":21,"color":"black","align":"center","baseline":"middle"},
   "encoding":{"x":{"datum":261.3325,"type":"quantitative","axis":null},"y":{"datum":-0.0331,"type":"quantitative","axis":null}}},
  {"data":{"name":"one"},"mark":{"type":"text","text":"R","angle":270,"font":"Liberation Mono","fontSize":14,"color":"black","align":"center","baseline":"middle"},
   "encoding":{"x":{"datum":261.3455,"type":"quantitative","axis":null},"y":{"datum":-0.0272,"type":"quantitative","axis":null}}},
  {"data":{"name":"one"},"mark":{"type":"text","text":"(K)","angle":270,"font":"Liberation Mono","fontSize":21,"color":"black","align":"center","baseline":"middle"},
   "encoding":{"x":{"datum":261.3338,"type":"quantitative","axis":null},"y":{"datum":-0.01436,"type":"quantitative","axis":null}}}
 ],
 "resolve":{"axis":{"x":"independent","y":"independent"}}
},
{"width":764,"height":214,
 "layer":[
  {"data":{"name":"p3"},"mark":{"type":"line","interpolate":"step","clip":true,"stroke":"#111","strokeWidth":1},
   "encoding":{
    "x":{"field":"f","type":"quantitative","scale":{"domain":[263.5,265.5],"nice":false,"zero":false},"axis":{"title":null,"orient":"bottom","values":[263.5,264,264.5,265,265.5],"format":"~f","tickSize":-9,"labelPadding":17}},
    "y":{"field":"t","type":"quantitative","scale":{"domain":[-0.0188,0.06],"nice":false,"zero":false},"axis":{"title":null,"orient":"left","values":[0,0.02,0.04,0.06],"format":"~f","tickSize":-9,"labelPadding":17}}}},
  {"data":{"name":"one"},"mark":{"type":"point","opacity":0},
   "encoding":{
    "x":{"datum":264,"type":"quantitative","axis":{"title":null,"orient":"bottom","values":[263.5,263.6,263.7,263.8,263.9,264,264.1,264.2,264.3,264.4,264.5,264.6,264.7,264.8,264.9,265,265.1,265.2,265.3,265.4,265.5],"labels":false,"tickSize":-5}},
    "y":{"datum":0,"type":"quantitative","axis":{"title":null,"orient":"left","values":[-0.015,-0.01,-0.005,0,0.005,0.01,0.015,0.02,0.025,0.03,0.035,0.04,0.045,0.05,0.055,0.06],"labels":false,"tickSize":-5}}}},
  {"data":{"name":"one"},"mark":{"type":"point","opacity":0},
   "encoding":{
    "x":{"datum":264,"type":"quantitative","axis":{"title":null,"orient":"top","values":[263.5,264,264.5,265,265.5],"labels":false,"tickSize":-9}},
    "y":{"datum":0,"type":"quantitative","axis":{"title":null,"orient":"right","values":[0,0.02,0.04,0.06],"labels":false,"tickSize":-9}}}},
  {"data":{"name":"one"},"mark":{"type":"point","opacity":0},
   "encoding":{
    "x":{"datum":264,"type":"quantitative","axis":{"title":null,"orient":"top","values":[263.5,263.6,263.7,263.8,263.9,264,264.1,264.2,264.3,264.4,264.5,264.6,264.7,264.8,264.9,265,265.1,265.2,265.3,265.4,265.5],"labels":false,"tickSize":-5}},
    "y":{"datum":0,"type":"quantitative","axis":{"title":null,"orient":"right","values":[-0.015,-0.01,-0.005,0,0.005,0.01,0.015,0.02,0.025,0.03,0.035,0.04,0.045,0.05,0.055,0.06],"labels":false,"tickSize":-5}}}},
  {"data":{"name":"ptr"},"transform":[{"filter":"datum.p==3"}],"mark":{"type":"rule","color":"#444","strokeWidth":1},
   "encoding":{"x":{"field":"f","type":"quantitative","axis":null},"y":{"field":"t","type":"quantitative","axis":null},"x2":{"field":"f2"},"y2":{"field":"t2"}}},
  {"data":{"name":"lab"},"transform":[{"filter":"datum.p==3"}],"mark":{"type":"text","font":"Liberation Sans","fontWeight":"bold","fontSize":14,"color":"black","baseline":"middle","align":"center"},
   "encoding":{"x":{"field":"f","type":"quantitative","axis":null},"y":{"field":"t","type":"quantitative","axis":null},"text":{"field":"s"}}}
 ],
 "resolve":{"axis":{"x":"independent","y":"independent"}}
},
{"width":764,"height":214,
 "layer":[
  {"layer":[
    {"data":{"name":"p4"},"mark":{"type":"line","interpolate":"step","clip":true,"stroke":"#111","strokeWidth":1},
     "encoding":{
      "x":{"field":"f","type":"quantitative","scale":{"domain":[265.5,267.5],"nice":false,"zero":false},"axis":{"title":"Rest Frequency (GHz)","titlePadding":14,"orient":"bottom","values":[265.5,266,266.5,267,267.5],"format":"~f","tickSize":-9,"labelPadding":17}},
      "y":{"field":"t","type":"quantitative","scale":{"domain":[-0.0188,0.06],"nice":false,"zero":false},"axis":{"title":null,"orient":"left","values":[0,0.02,0.04,0.06],"format":"~f","tickSize":-9,"labelPadding":17}}}},
    {"data":{"name":"one"},"mark":{"type":"point","opacity":0},
     "encoding":{
      "x":{"datum":266,"type":"quantitative","axis":{"title":null,"orient":"bottom","values":[265.5,265.6,265.7,265.8,265.9,266,266.1,266.2,266.3,266.4,266.5,266.6,266.7,266.8,266.9,267,267.1,267.2,267.3,267.4,267.5],"labels":false,"tickSize":-5}},
      "y":{"datum":0,"type":"quantitative","axis":{"title":null,"orient":"left","values":[-0.015,-0.01,-0.005,0,0.005,0.01,0.015,0.02,0.025,0.03,0.035,0.04,0.045,0.05,0.055,0.06],"labels":false,"tickSize":-5}}}},
    {"data":{"name":"one"},"mark":{"type":"point","opacity":0},
     "encoding":{
      "x":{"datum":266,"type":"quantitative","axis":{"title":null,"orient":"top","values":[265.5,266,266.5,267,267.5],"labels":false,"tickSize":-9}},
      "y":{"datum":0,"type":"quantitative","axis":{"title":null,"orient":"right","values":[0,0.02,0.04,0.06],"labels":false,"tickSize":-9}}}},
    {"data":{"name":"one"},"mark":{"type":"point","opacity":0},
     "encoding":{
      "x":{"datum":266,"type":"quantitative","axis":{"title":null,"orient":"top","values":[265.5,265.6,265.7,265.8,265.9,266,266.1,266.2,266.3,266.4,266.5,266.6,266.7,266.8,266.9,267,267.1,267.2,267.3,267.4,267.5],"labels":false,"tickSize":-5}},
      "y":{"datum":0,"type":"quantitative","axis":{"title":null,"orient":"right","values":[-0.015,-0.01,-0.005,0,0.005,0.01,0.015,0.02,0.025,0.03,0.035,0.04,0.045,0.05,0.055,0.06],"labels":false,"tickSize":-5}}}},
    {"data":{"name":"ptr"},"transform":[{"filter":"datum.p==4"}],"mark":{"type":"rule","color":"#444","strokeWidth":1},
     "encoding":{"x":{"field":"f","type":"quantitative","axis":null},"y":{"field":"t","type":"quantitative","axis":null},"x2":{"field":"f2"},"y2":{"field":"t2"}}},
    {"data":{"name":"lab"},"transform":[{"filter":"datum.p==4"}],"mark":{"type":"text","font":"Liberation Sans","fontWeight":"bold","fontSize":14,"color":"black","baseline":"middle","align":"center"},
     "encoding":{"x":{"field":"f","type":"quantitative","axis":null},"y":{"field":"t","type":"quantitative","axis":null},"text":{"field":"s"}}}
   ],
   "resolve":{"axis":{"x":"independent","y":"independent"}}},
  {"layer":[
    {"data":{"name":"ins"},"mark":{"type":"line","interpolate":"step","clip":false,"stroke":"#111","strokeWidth":1},
     "encoding":{
      "x":{"field":"f","type":"quantitative","scale":{"domain":[265.8,266.0],"range":[197,360],"nice":false,"zero":false},"axis":{"title":null,"orient":"bottom","offset":-135,"values":[265.8,265.85,265.9,265.95],"format":"~f","tickSize":-4,"labelPadding":11,"labelFontSize":11,"domain":true,"domainColor":"black","domainWidth":1.3}},
      "y":{"field":"t","type":"quantitative","scale":{"domain":[-0.3,0.98],"range":[79,9],"nice":false,"zero":false},"axis":{"title":null,"orient":"left","offset":-197,"values":[0,0.5],"format":"~f","tickSize":-4,"labelPadding":11,"labelFontSize":11,"domain":true,"domainColor":"black","domainWidth":1.3}}}},
    {"data":{"name":"one"},"mark":{"type":"point","opacity":0},
     "encoding":{
      "x":{"datum":265.9,"type":"quantitative","axis":{"title":null,"orient":"bottom","offset":-135,"values":[265.8,265.81,265.82,265.83,265.84,265.85,265.86,265.87,265.88,265.89,265.9,265.91,265.92,265.93,265.94,265.95,265.96,265.97,265.98,265.99,266],"labels":false,"tickSize":-2.5}},
      "y":{"datum":0,"type":"quantitative","axis":{"title":null,"orient":"left","offset":-197,"values":[-0.2,-0.1,0,0.1,0.2,0.3,0.4,0.5,0.6,0.7,0.8,0.9],"labels":false,"tickSize":-2.5}}}},
    {"data":{"name":"one"},"mark":{"type":"point","opacity":0},
     "encoding":{
      "x":{"datum":265.9,"type":"quantitative","axis":{"title":null,"orient":"top","offset":-9,"values":[265.8,265.85,265.9,265.95],"labels":false,"tickSize":-4,"domain":true,"domainColor":"black","domainWidth":1.3}},
      "y":{"datum":0,"type":"quantitative","axis":{"title":null,"orient":"right","offset":-404,"values":[0,0.5],"labels":false,"tickSize":-4,"domain":true,"domainColor":"black","domainWidth":1.3}}}},
    {"data":{"name":"one"},"mark":{"type":"point","opacity":0},
     "encoding":{
      "x":{"datum":265.9,"type":"quantitative","axis":{"title":null,"orient":"top","offset":-9,"values":[265.8,265.81,265.82,265.83,265.84,265.85,265.86,265.87,265.88,265.89,265.9,265.91,265.92,265.93,265.94,265.95,265.96,265.97,265.98,265.99,266],"labels":false,"tickSize":-2.5}},
      "y":{"datum":0,"type":"quantitative","axis":{"title":null,"orient":"right","offset":-404,"values":[-0.2,-0.1,0,0.1,0.2,0.3,0.4,0.5,0.6,0.7,0.8,0.9],"labels":false,"tickSize":-2.5}}}},
    {"data":{"name":"ilab"},"mark":{"type":"text","font":"Liberation Sans","fontWeight":"bold","fontSize":10,"color":"black","baseline":"middle","align":"center"},
     "encoding":{"x":{"field":"f","type":"quantitative","axis":null},"y":{"field":"t","type":"quantitative","axis":null},"text":{"field":"s"}}}
   ],
   "resolve":{"axis":{"x":"independent","y":"independent"}}}
 ],
 "resolve":{"scale":{"x":"independent","y":"independent"},"axis":{"x":"independent","y":"independent"}}
}
]
}
